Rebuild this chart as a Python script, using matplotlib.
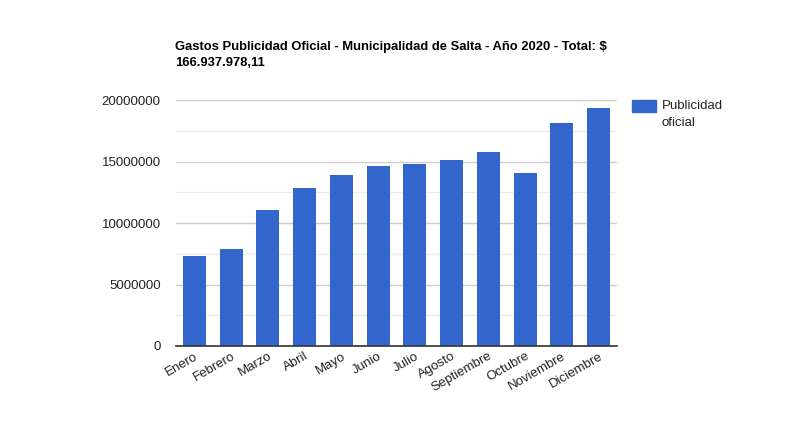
import matplotlib
matplotlib.use("Agg")
import matplotlib.pyplot as plt
from matplotlib.ticker import MultipleLocator, FuncFormatter
from matplotlib.patches import Rectangle

plt.rcParams['font.family'] = ['Liberation Sans', 'DejaVu Sans']

months = ["Enero", "Febrero", "Marzo", "Abril", "Mayo", "Junio", "Julio",
          "Agosto", "Septiembre", "Octubre", "Noviembre", "Diciembre"]
values = [7340000, 7910000, 11080000, 12870000, 13930000, 14660000, 14820000,
          15150000, 15740000, 14090000, 18150000, 19370000]
series_name = "Publicidad\noficial"
title = "Gastos Publicidad Oficial - Municipalidad de Salta - Año 2020 - Total: $\n166.937.978,11"

fig = plt.figure(figsize=(7.89, 4.41), dpi=100)
ax = fig.add_axes([176/789, 1-346/441, (617-176)/789, (346-100)/441])

color = "#3366cc"
x = list(range(len(months)))
ax.bar(x, values, width=0.62, color=color, zorder=3)
ax.set_xlim(-0.5, len(months)-0.5)
ax.set_ylim(0, 20000000)
ax.yaxis.set_major_locator(MultipleLocator(5000000))
ax.yaxis.set_minor_locator(MultipleLocator(2500000))
ax.yaxis.set_major_formatter(FuncFormatter(lambda v, p: f"{int(v)}"))
ax.grid(axis='y', which='major', color='#cccccc', linewidth=1, zorder=0)
ax.grid(axis='y', which='minor', color='#ebebeb', linewidth=1, zorder=0)
for s in ['top', 'right', 'left']:
    ax.spines[s].set_visible(False)
ax.spines['bottom'].set_color('#333333')
ax.spines['bottom'].set_linewidth(1.2)
ax.spines['bottom'].set_zorder(4)
ax.tick_params(axis='both', which='both', length=0, colors='#222222', labelsize=9.5)
ax.tick_params(axis='y', pad=11)
ax.set_xticks(x)
ax.set_xticklabels(months, rotation=30, ha='right', rotation_mode='anchor')
ax.tick_params(axis='x', pad=3)

fig.text(175/789, 1-55/441, title, fontsize=9.35, fontweight='bold', color='#000000',
         ha='left', va='center', linespacing=1.35)

# legend
fig.patches.append(Rectangle((632/789, 1-112/441), 24/789, 12/441,
                             transform=fig.transFigure, color=color))
fig.text(662/789, 1-106/441, "Publicidad", fontsize=9.5, color='#222222', ha='left', va='center')
fig.text(662/789, 1-123/441, "oficial", fontsize=9.5, color='#222222', ha='left', va='center')

fig.savefig("out.png", dpi=100)
